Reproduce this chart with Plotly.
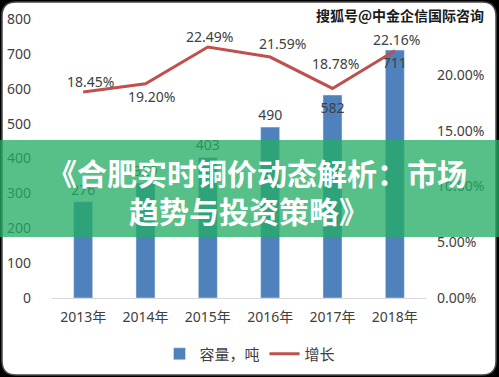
import plotly.graph_objects as go

years = ["2013年", "2014年", "2015年", "2016年", "2017年", "2018年"]
capacity = [276, 329, 403, 490, 582, 711]
growth = [0.1845, 0.1920, 0.2249, 0.2159, 0.1878, 0.2216]
growth_labels = ["18.45%", "19.20%", "22.49%", "21.59%", "18.78%", "22.16%"]
left_ticks = [0, 100, 200, 300, 400, 500, 600, 700, 800]
right_ticks = [0, 0.05, 0.10, 0.15, 0.20]
right_tick_labels = ["0.00%", "5.00%", "10.00%", "15.00%", "20.00%"]
bar_name = "容量，吨"
line_name = "增长"
banner_lines = ["《合肥实时铜价动态解析：市场", "趋势与投资策略》"]
watermark = "搜狐号@中金企信国际咨询"

W, H = 499, 377
L, R, T, B = 52, 73, 19, 79
PW, PH = W - L - R, H - T - B

def px(xp):
    return (xp - L) / PW

def py(yp):
    return (H - B - yp) / PH

FONT = "Noto Sans, Noto Sans CJK SC, sans-serif"
TXT = "#404040"

fig = go.Figure()
fig.add_trace(go.Bar(
    x=years, y=capacity, name=bar_name, marker_color="#4F81BD", width=0.305,
    text=[str(v) for v in capacity],
    textposition=["outside", "outside", "outside", "outside", "inside", "inside"],
    insidetextanchor="end", textangle=0, constraintext="none",
    textfont=dict(family=FONT, size=14, color=TXT),
    insidetextfont=dict(family=FONT, size=14, color=TXT),
    outsidetextfont=dict(family=FONT, size=14, color=TXT),
    cliponaxis=False,
))
fig.add_trace(go.Scatter(
    x=years, y=growth, name=line_name, mode="lines", yaxis="y2",
    line=dict(color="#C0504D", width=3),
))

# line labels
offsets = [(7, 11), (6, -13), (2, 11), (12, 14), (3, 25), (2, 11)]
for yr, g, lab, (dx, dy) in zip(years, growth, growth_labels, offsets):
    fig.add_annotation(x=yr, y=g, yref="y2", text=lab, showarrow=False,
                       xshift=dx, yshift=dy,
                       font=dict(family=FONT, size=14, color=TXT))

shapes = []
# rounded border
x0, x1, y0, y1, r = 2, 496, 2, 375, 14
def P(a, b):
    return f"{px(a):.5f},{py(b):.5f}"
path = (f"M{P(x0 + r, y0)} L{P(x1 - r, y0)} Q{P(x1, y0)} {P(x1, y0 + r)} "
        f"L{P(x1, y1 - r)} Q{P(x1, y1)} {P(x1 - r, y1)} "
        f"L{P(x0 + r, y1)} Q{P(x0, y1)} {P(x0, y1 - r)} "
        f"L{P(x0, y0 + r)} Q{P(x0, y0)} {P(x0 + r, y0)} Z")
shapes.append(dict(type="path", xref="paper", yref="paper", path=path,
                   fillcolor="white", line=dict(color="#4a4a4a", width=1.5),
                   layer="below"))
# banner
shapes.append(dict(type="rect", xref="paper", yref="paper",
                   x0=px(0), x1=px(W), y0=py(237), y1=py(140),
                   fillcolor="rgba(36,172,100,0.77)", line=dict(width=0),
                   layer="above"))

fig.add_annotation(xref="paper", yref="paper", x=px(257), y=py(172),
                   text=f"<b>{banner_lines[0]}</b>", showarrow=False,
                   xanchor="center", yanchor="middle",
                   font=dict(family="Noto Sans CJK SC", size=30, color="white"))
fig.add_annotation(xref="paper", yref="paper", x=px(249), y=py(210),
                   text=f"<b>{banner_lines[1]}</b>", showarrow=False,
                   xanchor="center", yanchor="middle",
                   font=dict(family="Noto Sans CJK SC", size=30, color="white"))
fig.add_annotation(xref="paper", yref="paper", x=px(486), y=py(15),
                   text=f"<b>{watermark}</b>", showarrow=False,
                   xanchor="right", yanchor="middle",
                   font=dict(family="Noto Sans CJK SC", size=14, color="#1a1a1a",
                             shadow="1px 1px 1px #fff, -1px -1px 1px #fff, 1px -1px 1px #fff, -1px 1px 1px #fff"))

fig.update_layout(
    width=W, height=H,
    margin=dict(l=L, r=R, t=T, b=B, pad=0, autoexpand=False),
    paper_bgcolor="black", plot_bgcolor="rgba(0,0,0,0)",
    font=dict(family=FONT, size=14, color=TXT),
    bargap=0.5,
    shapes=shapes,
    showlegend=True,
    legend=dict(orientation="h", xanchor="center", yanchor="middle",
                x=px(250), y=py(354), font=dict(family=FONT, size=15, color=TXT),
                bgcolor="rgba(0,0,0,0)", itemwidth=30),
    xaxis=dict(showline=True, linecolor="#d9d9d9", linewidth=1, ticks="",
               showgrid=False, tickfont=dict(size=14, color=TXT),
               ticklabelstandoff=6, automargin=False),
    yaxis=dict(range=[0, 800], tickvals=left_ticks, showgrid=False,
               zeroline=False, showline=False, ticks="", automargin=False,
               tickfont=dict(size=14, color=TXT), ticklabelstandoff=20),
    yaxis2=dict(range=[0, 0.25], overlaying="y", side="right", automargin=False,
                tickvals=right_ticks, ticktext=right_tick_labels,
                showgrid=False, zeroline=False, showline=False, ticks="",
                tickfont=dict(size=14, color=TXT), ticklabelstandoff=10),
)

fig.write_html("out.html", config={"displayModeBar": False},
               post_script="document.body.style.margin='0';document.body.style.overflow='hidden';")
